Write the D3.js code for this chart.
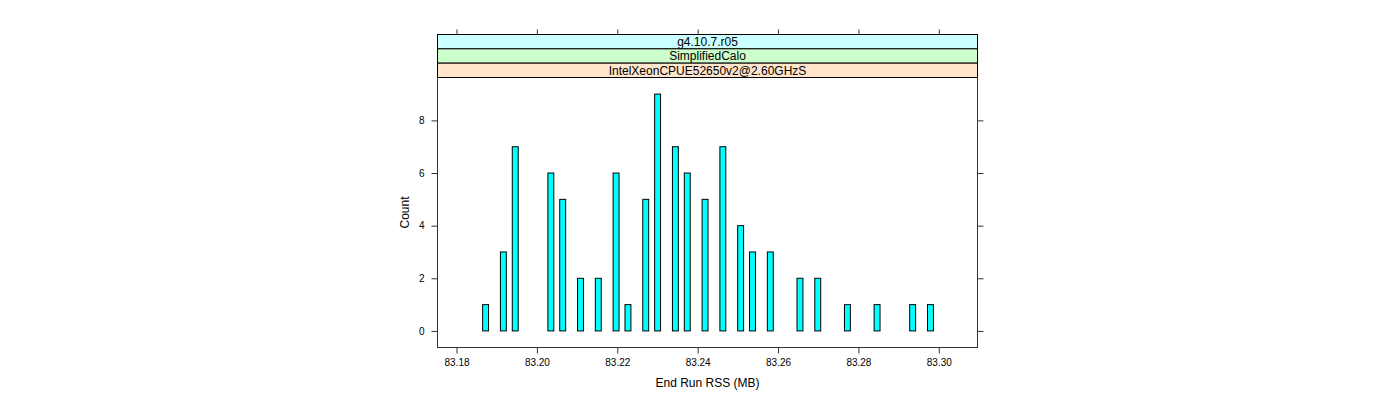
<!DOCTYPE html>
<html>
<head>
<meta charset="utf-8">
<script src="https://cdn.jsdelivr.net/npm/d3@7"></script>
<style>
  html, body { margin: 0; padding: 0; background: #fff; }
  svg { display: block; }
  text { font-family: "Liberation Sans", Arial, Helvetica, sans-serif; }
</style>
</head>
<body>
<svg id="chart" width="1400" height="400"></svg>
<script>
// ---- data ----
const breaksMin = 83.18207;
const breaksMax = 83.30309;
const nBins = 82;
// counts per bin (bin index -> count), all other bins are 0
const barBins   = [3, 6, 8, 14, 16, 19, 22, 25, 27, 30, 32, 35, 37, 40, 43, 46, 48, 51, 56, 59, 64, 69, 75, 78];
const barCounts = [1, 3, 7, 6, 5, 2, 2, 6, 1, 5, 9, 7, 6, 5, 7, 4, 3, 3, 2, 2, 1, 1, 1, 1];
const xTicks = [83.18, 83.20, 83.22, 83.24, 83.26, 83.28, 83.30];
const yTicks = [0, 2, 4, 6, 8];
const strips = ["g4.10.7.r05", "SimplifiedCalo", "IntelXeonCPUE52650v2@2.60GHzS"];
const stripColors = ["#ccffff", "#ccffcc", "#ffe5cc"];
const xLabel = "End Run RSS (MB)";
const yLabel = "Count";

// ---- layout ----
const panel = { left: 437.5, right: 977.5, top: 77.5, bottom: 347.5 };
const stripTop = 34.5;
const stripH = (panel.top - stripTop) / strips.length;

const svg = d3.select("#chart");
svg.append("rect").attr("width", 1400).attr("height", 400).attr("fill", "#fff");

const x = d3.scaleLinear().domain([83.17527, 83.30963]).range([panel.left, panel.right]);
const y = d3.scaleLinear().domain([-0.63, 9.63]).range([panel.bottom, panel.top]);

const binW = (breaksMax - breaksMin) / nBins;
const counts = new Array(nBins).fill(0);
barBins.forEach((b, i) => { counts[b] = barCounts[i]; });
const bins = counts.map((c, i) => ({ x0: breaksMin + i * binW, x1: breaksMin + (i + 1) * binW, c }));

// bars (including zero-height bins which form the baseline)
svg.append("g").selectAll("rect").data(bins).join("rect")
  .attr("x", d => x(d.x0))
  .attr("width", d => x(d.x1) - x(d.x0))
  .attr("y", d => y(d.c))
  .attr("height", d => y(0) - y(d.c))
  .attr("fill", "#00ffff")
  .attr("stroke", "#000")
  .attr("stroke-width", 1);

// panel border
svg.append("rect")
  .attr("x", panel.left).attr("y", panel.top)
  .attr("width", panel.right - panel.left).attr("height", panel.bottom - panel.top)
  .attr("fill", "none").attr("stroke", "#333").attr("stroke-width", 1);

// strips
strips.forEach((s, i) => {
  const yy = stripTop + i * stripH;
  svg.append("rect")
    .attr("x", panel.left).attr("y", yy)
    .attr("width", panel.right - panel.left).attr("height", stripH)
    .attr("fill", stripColors[i]).attr("stroke", "#000").attr("stroke-width", 1);
  svg.append("text")
    .attr("x", (panel.left + panel.right) / 2)
    .attr("y", yy + stripH / 2 + 4.3)
    .attr("text-anchor", "middle")
    .attr("font-size", 12)
    .attr("fill", "#000")
    .text(s);
});

// axes
function styleAxis(g) {
  g.select(".domain").remove();
  g.selectAll(".tick line").attr("stroke", "#333");
  g.selectAll(".tick text").attr("font-family", "Liberation Sans, Arial, sans-serif").attr("fill", "#000");
}
svg.append("g").attr("transform", `translate(0,${panel.bottom})`)
  .call(d3.axisBottom(x).tickValues(xTicks).tickSize(6).tickPadding(5).tickFormat(d3.format(".2f")))
  .call(styleAxis)
  .selectAll(".tick text").attr("font-size", 10);
svg.append("g").attr("transform", `translate(0,${stripTop})`)
  .call(d3.axisTop(x).tickValues(xTicks).tickSize(5).tickFormat(""))
  .call(styleAxis);
svg.append("g").attr("transform", `translate(${panel.left},0)`)
  .call(d3.axisLeft(y).tickValues(yTicks).tickSize(6).tickPadding(7).tickFormat(d3.format("d")))
  .call(styleAxis)
  .selectAll(".tick text").attr("font-size", 10);
svg.append("g").attr("transform", `translate(${panel.right},0)`)
  .call(d3.axisRight(y).tickValues(yTicks).tickSize(6).tickFormat(""))
  .call(styleAxis);

// axis titles
svg.append("text")
  .attr("x", (panel.left + panel.right) / 2)
  .attr("y", 387)
  .attr("text-anchor", "middle")
  .attr("font-size", 12)
  .text(xLabel);
svg.append("text")
  .attr("transform", `translate(409,${(panel.top + panel.bottom) / 2}) rotate(-90)`)
  .attr("text-anchor", "middle")
  .attr("font-size", 12)
  .text(yLabel);
</script>
</body>
</html>
